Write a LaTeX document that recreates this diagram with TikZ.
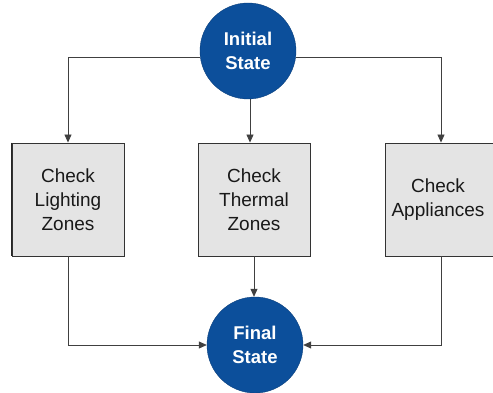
\documentclass[tikz,border=0pt]{standalone}
\usepackage{fontspec}
\setmainfont{Liberation Sans}
\usetikzlibrary{arrows.meta}
\definecolor{stateblue}{HTML}{0C4F9B}
\definecolor{boxgray}{HTML}{E4E4E4}
\begin{document}
\begin{tikzpicture}[x=1pt,y=-1pt,
  state/.style={circle,fill=stateblue,draw=stateblue!80!black,minimum size=96pt,inner sep=0pt,
    text=white,font=\fontsize{18.5}{23.5}\selectfont\bfseries,align=center},
  checkbox/.style={rectangle,fill=boxgray,draw=black!80,line width=0.9pt,minimum width=112pt,minimum height=113pt,
    inner sep=0pt,font=\fontsize{19}{24}\selectfont,text=black!90,align=center},
  conn/.style={draw=black!75,line width=0.8pt,-{Triangle[length=8pt,width=7pt]}}]
\clip (0,0) rectangle (493,393);
\useasboundingbox (0,0) rectangle (493,393);
\node[state] (init) at (248,51) {Initial\\State};
\node[checkbox] (light) at (68,199.5) {Check\\Lighting\\Zones};
\node[checkbox] (therm) at (254,199.5) {Check\\Thermal\\Zones};
\node[checkbox] (appl) at (441,199.5) {};
\node[font=\fontsize{19}{24}\selectfont,text=black!90,align=center] (appltext) at (438,199.5) {Check\\Appliances};
\node[state] (final) at (255,345) {Final\\State};
\draw[line width=1.6pt,black!85] (light.north west) -- (light.south west);
\draw[conn] (init.west |- 0,57) -| (light.north);
\draw[conn] (init.east |- 0,57) -| (appl.north);
\draw[conn] (init.south -| 250,0) -- (therm.north -| 250,0);
\draw[conn] (therm.south) -- (final.north -| therm.south);
\draw[conn] (light.south) |- (final.west);
\draw[conn] (appl.south) |- (final.east);
\end{tikzpicture}
\end{document}
